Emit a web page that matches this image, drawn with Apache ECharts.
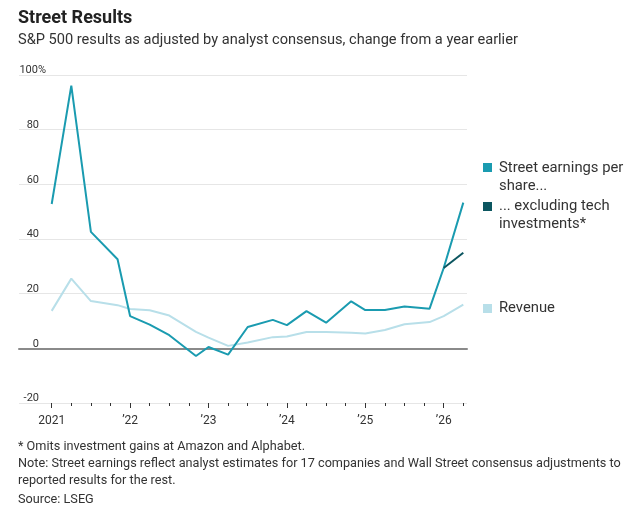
<!DOCTYPE html>
<html>
<head>
<meta charset="utf-8">
<script src="https://cdn.jsdelivr.net/npm/echarts@6/dist/echarts.min.js"></script>
<style>
  html, body { margin: 0; padding: 0; background: #fff; }
  #main { width: 642px; height: 522px; }
</style>
</head>
<body>
<div id="main"></div>
<script>
// periods as fractional years (Q4 reports land a bit later in the year)
var periods = [2021, 2021.25, 2021.5, 2021.84, 2022, 2022.25, 2022.5, 2022.84,
               2023, 2023.25, 2023.5, 2023.82, 2024, 2024.25, 2024.5, 2024.82,
               2025, 2025.25, 2025.5, 2025.82, 2026, 2026.25];
var streetEps = [52.8, 96.1, 42.6, 32.6, 11.8, 8.7, 4.8, -2.8, 0.5, -2.3, 7.8, 10.4,
                 8.5, 13.6, 9.4, 17.2, 14.0, 14.0, 15.3, 14.5, 29.4, 53.3];
var revenue = [13.7, 25.5, 17.3, 15.8, 14.4, 13.9, 12.0, 6.0, 3.9, 0.9, 2.1, 4.1,
               4.3, 6.0, 6.0, 5.7, 5.4, 6.7, 8.8, 9.6, 11.8, 16.0];
var exTechPeriods = [2026, 2026.25];
var exTech = [29.4, 35.0];
var yTicks = [-20, 0, 20, 40, 60, 80, 100];
var yearTicks = [2021, 2022, 2023, 2024, 2025, 2026];

var FONT = 'Roboto';
var C_EPS = '#1a9bb0';
var C_EX = '#0c5660';
var C_REV = '#b8dfe9';
var C_GRID = '#e6e6e6';
var C_TICK = '#333';

function pairs(xs, ys) {
    var out = [];
    for (var i = 0; i < xs.length; i++) out.push([xs[i], ys[i]]);
    return out;
}

var myChart = echarts.init(document.getElementById('main'), null, { renderer: 'canvas' });

function hiddenY(idx, min, max) {
    return {
        gridIndex: idx, type: 'value', min: min, max: max,
        axisLine: { show: false }, axisTick: { show: false }, axisLabel: { show: false }, splitLine: { show: false }
    };
}

// tick strip: an x axis whose split lines are only a few px tall
function tickAxis(idx, max, interval) {
    return {
        gridIndex: idx, type: 'value', min: yearTicks[0], max: max, interval: interval,
        axisLine: { show: false, onZero: false }, axisTick: { show: false }, axisLabel: { show: false },
        splitLine: { show: true, showMinLine: true, showMaxLine: true, lineStyle: { color: C_TICK, width: 1 } }
    };
}

var option = {
    animation: false,
    textStyle: { fontFamily: FONT },
    grid: [
        // 0 wide grid: gridlines, y labels, zero line
        { left: 19, right: 175, top: 75, height: 328 },
        // 1 data grid
        { left: 51.7, right: 178.7, top: 75, height: 328 },
        // 2 year labels
        { left: 51.7, width: 392, top: 75, height: 328 },
        // 3 quarter ticks
        { left: 51.7, right: 178.7, top: 403, height: 3 },
        // 4 year ticks
        { left: 51.7, width: 392, top: 403, height: 5 },
        // 5 bottom rule
        { left: 19, right: 175, top: 403, height: 10 }
    ],
    xAxis: [{
        gridIndex: 0, type: 'value', min: 0, max: 1,
        axisLine: { show: true, onZero: true, lineStyle: { color: '#8a8a8a', width: 2 } },
        axisTick: { show: false }, axisLabel: { show: false }, splitLine: { show: false }, z: 3
    }, {
        gridIndex: 1, type: 'value', min: 2021, max: 2026.25, interval: 0.25,
        axisLine: { show: false, onZero: false },
        axisTick: { show: false }, axisLabel: { show: false }, splitLine: { show: false }
    }, {
        gridIndex: 2, type: 'value', min: 2021, max: 2026, interval: 1,
        axisLine: { show: false, onZero: false },
        axisTick: { show: false },
        axisLabel: {
            show: true, margin: 12, color: '#333', fontSize: 12, fontFamily: FONT,
            formatter: function (v) {
                return v === yearTicks[0] ? String(v) : '\u2019' + String(v).slice(2);
            }
        },
        splitLine: { show: false }
    },
    tickAxis(3, 2026.25, 0.25),
    tickAxis(4, yearTicks[yearTicks.length - 1], 1),
    {
        gridIndex: 5, type: 'value', min: 0, max: 1, show: false
    }],
    yAxis: [{
        gridIndex: 0, type: 'value', min: yTicks[0], max: yTicks[yTicks.length - 1], interval: 20,
        axisLine: { show: false }, axisTick: { show: false },
        splitLine: { show: true, showMinLine: true, showMaxLine: true, lineStyle: { color: C_GRID, width: 1 } },
        axisLabel: {
            inside: true, align: 'right', verticalAlign: 'bottom', margin: 27,
            lineHeight: 9, padding: [0, 0, 0, 0], color: '#333', fontSize: 11, fontFamily: FONT,
            formatter: function (v) {
                return v === 100 ? '100%' : v + '{s| }';
            },
            rich: { s: { width: 7, fontSize: 11, lineHeight: 9 } }
        }
    },
    hiddenY(1, yTicks[0], yTicks[yTicks.length - 1]),
    hiddenY(2, yTicks[0], yTicks[yTicks.length - 1]),
    hiddenY(3, 0, 1),
    hiddenY(4, 0, 1),
    {
        gridIndex: 5, type: 'value', min: 0, max: 1, interval: 1,
        axisLine: { show: false }, axisTick: { show: false }, axisLabel: { show: false },
        splitLine: { show: true, showMinLine: false, showMaxLine: true, lineStyle: { color: C_GRID, width: 1 } }
    }],
    series: [{
        name: 'Revenue', type: 'line', xAxisIndex: 1, yAxisIndex: 1,
        data: pairs(periods, revenue), showSymbol: false, z: 4,
        lineStyle: { color: C_REV, width: 2 }
    }, {
        name: 'Street earnings per share...', type: 'line', xAxisIndex: 1, yAxisIndex: 1,
        data: pairs(periods, streetEps), showSymbol: false, z: 5,
        lineStyle: { color: C_EPS, width: 2 }
    }, {
        name: '... excluding tech investments*', type: 'line', xAxisIndex: 1, yAxisIndex: 1,
        data: pairs(exTechPeriods, exTech), showSymbol: false, z: 6,
        lineStyle: { color: C_EX, width: 2 }
    }],
    graphic: [
        { type: 'text', left: 18, top: 9, style: { text: 'Street Results', font: 'bold 18px ' + FONT, fill: '#222' } },
        { type: 'text', left: 18, top: 33, style: { text: 'S&P 500 results as adjusted by analyst consensus, change from a year earlier', font: '14.6px ' + FONT, fill: '#333' } },

        // legend
        { type: 'rect', left: 483, top: 163, shape: { width: 9, height: 9 }, style: { fill: C_EPS } },
        { type: 'text', left: 499, top: 159, style: { text: 'Street earnings per\nshare...', font: '14.8px ' + FONT, lineHeight: 18, fill: '#333' } },
        { type: 'rect', left: 483, top: 202, shape: { width: 9, height: 9 }, style: { fill: C_EX } },
        { type: 'text', left: 499, top: 197, style: { text: '... excluding tech\ninvestments*', font: '14.8px ' + FONT, lineHeight: 18, fill: '#333' } },
        { type: 'rect', left: 483, top: 304, shape: { width: 9, height: 9 }, style: { fill: C_REV } },
        { type: 'text', left: 499, top: 299, style: { text: 'Revenue', font: '14.8px ' + FONT, lineHeight: 18, fill: '#333' } },

        // notes
        { type: 'text', left: 18, top: 440, style: { text: '* Omits investment gains at Amazon and Alphabet.', font: '12.7px ' + FONT, fill: '#333' } },
        { type: 'text', left: 18, top: 455, style: { text: 'Note: Street earnings reflect analyst estimates for 17 companies and Wall Street consensus adjustments to\nreported results for the rest.', font: '12.7px ' + FONT, lineHeight: 17, fill: '#333' } },
        { type: 'text', left: 18, top: 493, style: { text: 'Source: LSEG', font: '12.7px ' + FONT, fill: '#333' } }
    ]
};

myChart.setOption(option);
</script>
</body>
</html>
